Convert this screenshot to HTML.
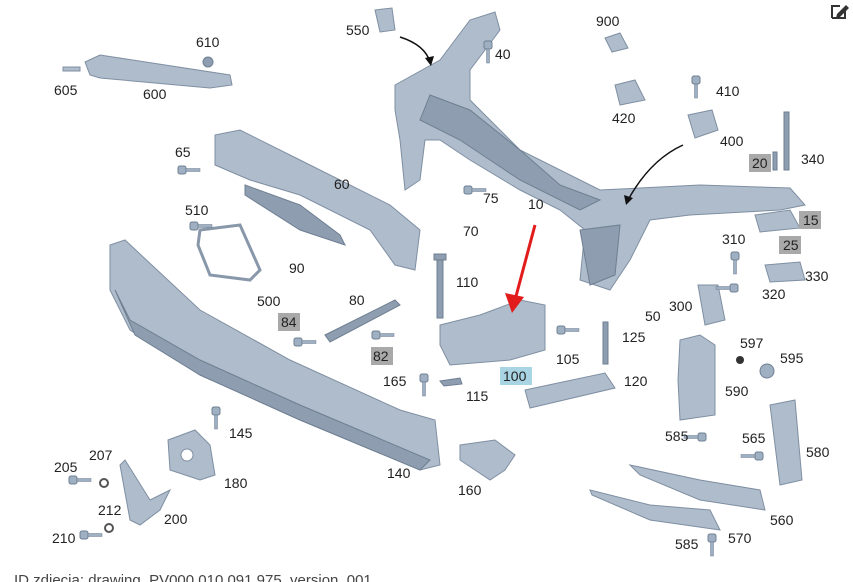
<!DOCTYPE html>
<html><head><meta charset="utf-8"><style>
html,body{margin:0;padding:0;background:#fff;width:853px;height:582px;overflow:hidden}
svg{display:block}
text{font-family:"Liberation Sans",sans-serif;font-size:14px;fill:#222}
.p{fill:#aebccb;stroke:#7f8fa2;stroke-width:1}
.d{fill:#8e9db0;stroke:#6f7f92;stroke-width:1}
.g{fill:#a9a9a9}
</style></head><body>
<svg width="853" height="582" viewBox="0 0 853 582">
<defs>
<g id="b"><rect x="-6" y="-4" width="8" height="8" rx="2" fill="#9fb0c2" stroke="#6f7f92"/><rect x="2" y="-1.5" width="14" height="3" fill="#9fb0c2" stroke="#6f7f92" stroke-width=".5"/></g>
</defs>
<path d="M832 18 L832 6 L840 6 M845 10 L845 18 L832 18" fill="none" stroke="#333" stroke-width="2"/>
<path d="M837 14 L846 5 L849 8 L840 17 L836 18 Z" fill="#333"/>
<path class="p" d="M395 85 L440 60 L470 20 L495 12 L500 30 L470 70 L470 100 L520 150 L600 190 L700 185 L790 188 L805 205 L780 210 L690 215 L650 220 L630 260 L610 290 L580 280 L585 230 L560 210 L520 190 L470 160 L440 140 L425 140 L420 180 L405 190 L400 140 L395 110 Z"/>
<path class="d" d="M430 95 L470 110 L520 150 L560 185 L600 200 L580 210 L520 180 L460 140 L420 120 Z"/>
<path class="d" d="M580 230 L620 225 L615 275 L590 285 Z"/>
<path class="p" d="M85 62 L100 55 L230 75 L232 85 L210 88 L100 78 L90 75 Z"/>
<circle cx="208" cy="62" r="5" class="d"/>
<path class="p" d="M63 67 L80 67 L80 71 L63 71Z"/>
<path class="p" d="M215 135 L240 130 L300 160 L390 205 L420 230 L415 270 L395 265 L370 230 L300 195 L250 180 L215 165 Z"/>
<path class="d" d="M245 185 L300 205 L340 235 L345 245 L300 230 L245 195Z"/>
<path d="M200 230 L240 225 L260 270 L250 280 L210 275 L198 245Z" style="fill:none;stroke:#8898aa;stroke-width:3"/>
<path class="p" d="M110 245 L125 240 L200 310 L290 360 L400 410 L435 420 L440 465 L420 470 L300 420 L200 375 L130 330 L110 290 Z"/>
<path class="d" d="M115 290 L135 335 L200 375 L300 420 L420 470 L430 460 L300 405 L200 360 L130 320 Z"/>
<path class="d" d="M325 335 L395 300 L400 305 L330 342Z"/>
<path class="p" d="M440 325 L480 315 L520 300 L545 305 L545 350 L510 360 L450 365 L440 345Z"/>
<rect x="437" y="258" width="6" height="60" class="d"/><rect x="434" y="254" width="12" height="6" class="d"/>
<rect x="603" y="322" width="5" height="42" class="d"/>
<path class="p" d="M525 390 L605 373 L615 388 L530 408Z"/>
<path class="p" d="M460 445 L495 440 L515 455 L505 470 L490 480 L460 460Z"/>
<path class="p" d="M168 440 L195 430 L210 445 L215 475 L200 480 L170 470Z"/>
<circle cx="187" cy="455" r="6" fill="#fff" stroke="#7f8fa2"/>
<path class="p" d="M120 465 L125 460 L150 500 L170 490 L160 510 L140 525 L130 520Z"/>
<path class="p" d="M630 465 L700 480 L760 490 L765 510 L700 500 L640 475Z"/>
<path class="p" d="M590 490 L650 505 L710 510 L720 530 L650 520 L592 495Z"/>
<path class="p" d="M770 405 L795 400 L802 480 L780 485 Z"/>
<path class="p" d="M680 340 L700 335 L715 345 L715 415 L680 420 L678 380Z"/>
<path class="p" d="M698 285 L718 285 L725 320 L705 325Z"/>
<path class="p" d="M755 215 L790 210 L800 228 L760 232Z"/>
<path class="p" d="M765 265 L800 262 L805 280 L770 282Z"/>
<path class="p" d="M688 115 L712 110 L718 130 L695 138Z"/>
<path class="p" d="M615 85 L635 80 L645 100 L620 105Z"/>
<path class="p" d="M605 38 L620 33 L628 48 L612 52Z"/>
<path class="p" d="M375 10 L392 8 L395 30 L380 32Z"/>
<rect x="784" y="112" width="5" height="58" class="d"/>
<rect x="773" y="152" width="4" height="18" class="d"/>
<use href="#b" transform="translate(184,170)"/>
<use href="#b" transform="translate(196,226)"/>
<use href="#b" transform="translate(300,342)"/>
<use href="#b" transform="translate(378,335)"/>
<use href="#b" transform="translate(563,330)"/>
<use href="#b" transform="translate(75,480)"/>
<use href="#b" transform="translate(86,535)"/>
<use href="#b" transform="translate(470,190)"/>
<use href="#b" transform="translate(732,288) scale(-1,1)"/>
<use href="#b" transform="translate(700,437) scale(-1,1)"/>
<use href="#b" transform="translate(757,456) scale(-1,1)"/>
<use href="#b" transform="translate(712,540) rotate(90)"/>
<use href="#b" transform="translate(216,413) rotate(90)"/>
<use href="#b" transform="translate(424,380) rotate(90)"/>
<use href="#b" transform="translate(488,47) rotate(90)"/>
<use href="#b" transform="translate(696,82) rotate(90)"/>
<use href="#b" transform="translate(735,258) rotate(90)"/>
<circle cx="767" cy="371" r="7" fill="#9fb0c2" stroke="#6f7f92"/>
<circle cx="740" cy="360" r="4" fill="#333"/>
<circle cx="104" cy="483" r="4" fill="none" stroke="#555" stroke-width="2"/>
<circle cx="109" cy="528" r="4" fill="none" stroke="#555" stroke-width="2"/>
<path class="d" d="M440 381 L460 378 L462 384 L444 386Z"/>
<path d="M400 37 Q425 45 430 62" fill="none" stroke="#111" stroke-width="1.5"/>
<path d="M425 58 L431 66 L434 56Z" fill="#111"/>
<path d="M683 145 Q650 160 628 200" fill="none" stroke="#111" stroke-width="1.5"/>
<path d="M624 195 L626 205 L633 198Z" fill="#111"/>
<line x1="535" y1="225" x2="515" y2="300" stroke="#e21b1b" stroke-width="3"/>
<path d="M505 293 L512 313 L524 297Z" fill="#e21b1b"/>
<rect x="749" y="154" width="22" height="18" class="g"/>
<rect x="799" y="211" width="22" height="18" class="g"/>
<rect x="779" y="236" width="22" height="18" class="g"/>
<rect x="278" y="313" width="22" height="18" class="g"/>
<rect x="371" y="347" width="22" height="18" class="g"/>
<rect x="500" y="367" width="32" height="18" fill="#a9d4e4"/>
<text x="346" y="35">550</text><text x="495" y="59">40</text>
<text x="596" y="26">900</text><text x="716" y="96">410</text>
<text x="612" y="123">420</text><text x="720" y="146">400</text>
<text x="752" y="168">20</text><text x="801" y="164">340</text>
<text x="196" y="47">610</text><text x="54" y="95">605</text><text x="143" y="99">600</text>
<text x="175" y="157">65</text><text x="334" y="189">60</text>
<text x="483" y="203">75</text><text x="528" y="209">10</text>
<text x="185" y="215">510</text><text x="463" y="236">70</text>
<text x="803" y="225">15</text><text x="722" y="244">310</text>
<text x="783" y="250">25</text><text x="289" y="273">90</text>
<text x="805" y="281">330</text><text x="456" y="287">110</text>
<text x="762" y="299">320</text><text x="257" y="306">500</text>
<text x="349" y="305">80</text><text x="669" y="311">300</text>
<text x="645" y="321">50</text><text x="281" y="327">84</text>
<text x="622" y="342">125</text><text x="740" y="348">597</text>
<text x="373" y="361">82</text><text x="556" y="364">105</text>
<text x="780" y="363">595</text><text x="503" y="381">100</text>
<text x="383" y="386">165</text><text x="624" y="386">120</text>
<text x="725" y="396">590</text><text x="466" y="401">115</text>
<text x="229" y="438">145</text><text x="665" y="441">585</text>
<text x="742" y="443">565</text><text x="806" y="457">580</text>
<text x="89" y="460">207</text><text x="54" y="472">205</text>
<text x="387" y="478">140</text><text x="224" y="488">180</text>
<text x="458" y="495">160</text><text x="98" y="515">212</text>
<text x="164" y="524">200</text><text x="770" y="525">560</text>
<text x="52" y="543">210</text><text x="728" y="543">570</text>
<text x="675" y="549">585</text>
<text x="14" y="585" style="font-size:15px;fill:#444">ID zdjęcia: drawing_PV000.010.091.975_version_001</text>
</svg>
</body></html>
